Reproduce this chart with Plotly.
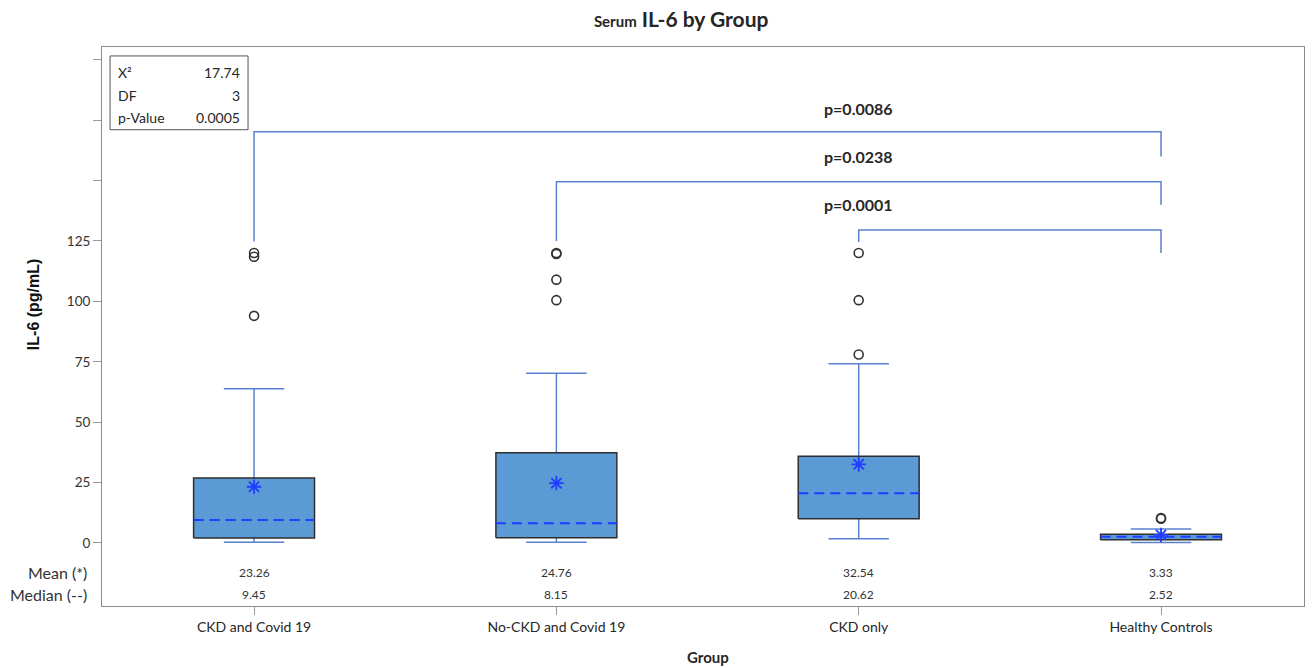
import plotly.graph_objects as go

# ---- data ----
groups = ["CKD and Covid 19", "No-CKD and Covid 19", "CKD only", "Healthy Controls"]
q1 = [2.1, 2.2, 10.0, 1.3]
q3 = [26.9, 37.3, 35.9, 3.6]
median = [9.45, 8.15, 20.62, 2.52]
mean = [23.26, 24.76, 32.54, 3.33]
whisker_low = [0.3, 0.3, 1.7, 0.2]
whisker_high = [63.8, 70.2, 74.2, 5.8]
outliers = [
    [120.0, 118.5, 94.0],
    [120.0, 119.6, 109.0, 100.5],
    [120.0, 100.5, 78.0],
    [10.0, 10.3],
]

# pairwise comparisons: (from group, to group, bar height, left leg end, right leg end, label, label height)
comparisons = [
    (0, 3, 170.2, 124.8, 160.0, "p=0.0086", 180.0),
    (1, 3, 149.5, 125.0, 140.0, "p=0.0238", 160.0),
    (2, 3, 129.5, 124.6, 120.0, "p=0.0001", 140.0),
]
test_rows = [("X\u00b2", "17.74"), ("DF", "3"), ("p-Value", "0.0005")]

y_ticks = [0, 25, 50, 75, 100, 125, 150, 175, 200]
y_ticktext = ["0", "25", "50", "75", "100", "125", "", "", ""]

# ---- styling ----
BOX_FILL = "#5b9bd5"
BOX_EDGE = "#2e2e2e"
WHISK = "#5b80cf"
MED = "#1f3cff"
FONT = "Lato"
TXT = "#262626"
half_w = 0.2
cap_w = 0.1

fig = go.Figure()
xs = list(range(len(groups)))

# whiskers and caps
wx, wy = [], []
for i in xs:
    wx += [i, i, None, i - cap_w, i + cap_w, None, i, i, None, i - cap_w, i + cap_w, None]
    wy += [q3[i], whisker_high[i], None, whisker_high[i], whisker_high[i], None,
           q1[i], whisker_low[i], None, whisker_low[i], whisker_low[i], None]
fig.add_trace(go.Scatter(x=wx, y=wy, mode="lines", line=dict(color=WHISK, width=1.5),
                         hoverinfo="skip", showlegend=False))

# boxes
for i in xs:
    fig.add_trace(go.Scatter(
        x=[i - half_w, i + half_w, i + half_w, i - half_w, i - half_w],
        y=[q1[i], q1[i], q3[i], q3[i], q1[i]],
        mode="lines", fill="toself", fillcolor=BOX_FILL,
        line=dict(color=BOX_EDGE, width=1.5), name=groups[i], showlegend=False))

# medians (dashed)
mx, my = [], []
for i in xs:
    mx += [i - half_w, i + half_w, None]
    my += [median[i], median[i], None]
fig.add_trace(go.Scatter(x=mx, y=my, mode="lines",
                         line=dict(color=MED, width=2, dash="10px,6px"),
                         hoverinfo="skip", showlegend=False))

# means
fig.add_trace(go.Scatter(x=xs, y=mean, mode="markers",
                         marker=dict(symbol="asterisk-open", size=12, color=MED,
                                     line=dict(color=MED, width=1.8)),
                         showlegend=False, name="Mean"))

# outliers
ox, oy = [], []
for i in xs:
    ox += [i] * len(outliers[i])
    oy += outliers[i]
fig.add_trace(go.Scatter(x=ox, y=oy, mode="markers",
                         marker=dict(symbol="circle-open", size=9, color="#333333",
                                     line=dict(color="#333333", width=1.6)),
                         showlegend=False, name="Outliers"))

# comparison brackets
bx, by = [], []
for a, b, h, left_end, right_end, label, ty in comparisons:
    bx += [a, a, b, b, None]
    by += [left_end, h, h, right_end, None]
    fig.add_annotation(x=2, y=ty, xref="x", yref="y", text="<b>" + label + "</b>",
                       showarrow=False, font=dict(family=FONT, size=16, color=TXT))
fig.add_trace(go.Scatter(x=bx, y=by, mode="lines", line=dict(color=WHISK, width=1.5),
                         hoverinfo="skip", showlegend=False))

# mean / median table under the boxes
for i in xs:
    fig.add_annotation(x=i, y=-12.4, xref="x", yref="y", text=f"{mean[i]:.2f}",
                       showarrow=False, font=dict(family=FONT, size=12, color="#333333"))
    fig.add_annotation(x=i, y=-21.2, xref="x", yref="y", text=f"{median[i]:.2f}",
                       showarrow=False, font=dict(family=FONT, size=12, color="#333333"))
fig.add_annotation(x=-0.011, y=-12.4, xref="paper", yref="y", text="Mean (*)",
                   xanchor="right", yanchor="middle", showarrow=False,
                   font=dict(family=FONT, size=16, color="#333333"))
fig.add_annotation(x=-0.011, y=-21.2, xref="paper", yref="y", text="Median (--)",
                   xanchor="right", yanchor="middle", showarrow=False,
                   font=dict(family=FONT, size=16, color="#333333"))

# Kruskal-Wallis summary box
fig.add_shape(type="rect", xref="paper", yref="paper", x0=0.0067, x1=0.1215, y0=0.852, y1=0.984,
              line=dict(color="#555555", width=1), fillcolor="white")
row_y = [0.955, 0.914, 0.873]
for (k, v), yy in zip(test_rows, row_y):
    fig.add_annotation(x=0.0115, y=yy, xref="paper", yref="paper", text=k,
                       xanchor="left", yanchor="middle", showarrow=False,
                       font=dict(family=FONT, size=14, color=TXT))
    fig.add_annotation(x=0.1165, y=yy, xref="paper", yref="paper", text=v,
                       xanchor="right", yanchor="middle", showarrow=False,
                       font=dict(family=FONT, size=14, color=TXT))

# axis titles
fig.add_annotation(x=-0.0574, y=0.54, xref="paper", yref="paper", text="<b>IL-6 (pg/mL)</b>",
                   textangle=-90, xanchor="center", yanchor="middle", showarrow=False,
                   font=dict(family="Liberation Sans", size=16, color="#111111"))
fig.add_annotation(x=0.504, y=-0.092, xref="paper", yref="paper", text="<b>Group</b>",
                   xanchor="center", yanchor="middle", showarrow=False,
                   font=dict(family=FONT, size=15, color=TXT))

fig.update_layout(
    width=1315, height=668,
    margin=dict(l=102, r=11, t=47, b=62),
    paper_bgcolor="white", plot_bgcolor="white",
    title=dict(text="<b><span style='font-size:15px'>Serum</span> IL-6 by Group</b>",
               x=0.518, y=0.97, xanchor="center", yanchor="middle",
               font=dict(family=FONT, size=21, color=TXT)),
    xaxis=dict(range=[-0.503, 3.473], tickvals=xs, ticktext=groups, showgrid=False,
               zeroline=False, showline=True, mirror=True, linecolor="#8c8c8c", linewidth=1,
               ticks="outside", ticklen=8, tickcolor="#9a9a9a",
               tickfont=dict(family=FONT, size=14, color=TXT)),
    yaxis=dict(range=[-26.1, 205.3], tickvals=y_ticks, ticktext=y_ticktext, showgrid=False,
               zeroline=False, showline=True, mirror=True, linecolor="#8c8c8c", linewidth=1,
               ticks="outside", ticklen=8, tickcolor="#9a9a9a",
               tickfont=dict(family=FONT, size=13.5, color="#333333")),
)

fig.write_html("out.html")
